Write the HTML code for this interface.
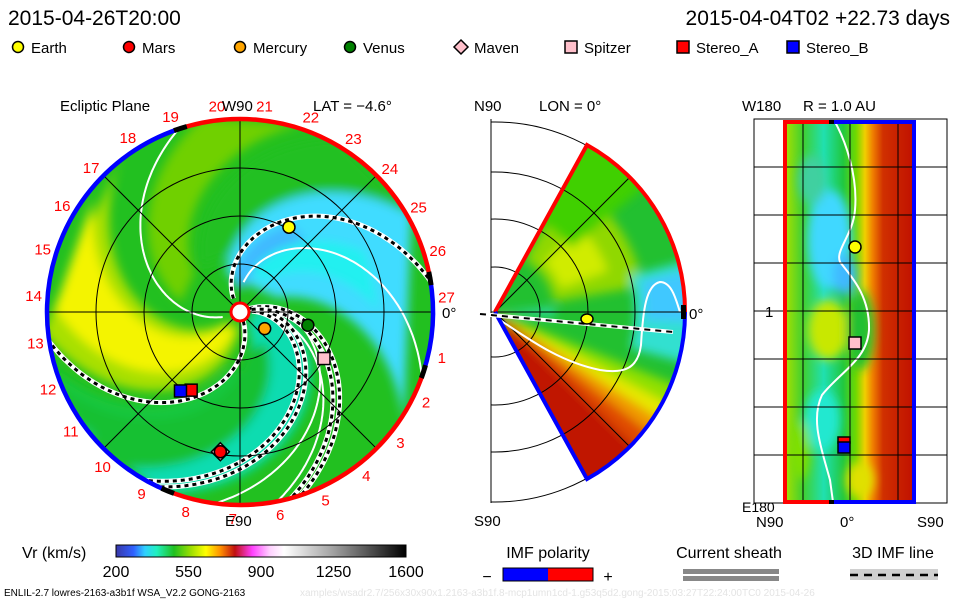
<!DOCTYPE html>
<html><head><meta charset="utf-8">
<style>
body{margin:0;background:#fff;}
#root{position:relative;width:960px;height:600px;overflow:hidden;background:#fff;font-family:"Liberation Sans",sans-serif;}
svg text{font-family:"Liberation Sans",sans-serif;}
</style></head><body>
<div id="root">
<svg id="svg" width="960" height="600" viewBox="0 0 960 600" xmlns="http://www.w3.org/2000/svg">
<defs>
<filter id="blur" x="-20%" y="-20%" width="140%" height="140%"><feGaussianBlur stdDeviation="5"/></filter>
<filter id="blur2" x="-20%" y="-20%" width="140%" height="140%"><feGaussianBlur stdDeviation="5"/></filter>
<clipPath id="cpL"><circle cx="240" cy="312" r="193"/></clipPath>
<clipPath id="cpM"><path d="M495,312 L587,145 A190,190 0 0 1 587,479 Z"/></clipPath>
<clipPath id="cpMF"><rect x="491" y="119" width="194" height="384"/></clipPath>
<clipPath id="cpR"><rect x="785" y="122" width="129" height="380"/></clipPath>
<linearGradient id="cbar" x1="0" x2="1" y1="0" y2="0">
<stop offset="0" stop-color="#3838a8"/><stop offset="0.06" stop-color="#3060ff"/><stop offset="0.1" stop-color="#30d0ff"/><stop offset="0.14" stop-color="#20f0c0"/><stop offset="0.2" stop-color="#20c020"/><stop offset="0.26" stop-color="#a0e000"/><stop offset="0.31" stop-color="#ffff00"/><stop offset="0.36" stop-color="#ff9000"/><stop offset="0.41" stop-color="#c01010"/><stop offset="0.47" stop-color="#ff40ff"/><stop offset="0.53" stop-color="#ffd0ff"/><stop offset="0.58" stop-color="#ffffff"/><stop offset="0.75" stop-color="#a0a0a0"/><stop offset="1" stop-color="#000000"/>
</linearGradient>
<linearGradient id="rgrad" x1="785" x2="914" y1="0" y2="0" gradientUnits="userSpaceOnUse">
<stop offset="0" stop-color="#a8e000"/><stop offset="0.14" stop-color="#40d030"/><stop offset="0.3" stop-color="#20e0b0"/><stop offset="0.45" stop-color="#20c840"/><stop offset="0.55" stop-color="#70d800"/><stop offset="0.62" stop-color="#f0d000"/><stop offset="0.68" stop-color="#f08000"/><stop offset="0.76" stop-color="#d03000"/><stop offset="1" stop-color="#c01000"/>
</linearGradient>
</defs>

<text x="8" y="25" font-size="21" fill="#000">2015-04-26T20:00</text>
<text x="950" y="25" font-size="21" fill="#000" text-anchor="end">2015-04-04T02 +22.73 days</text>

<g id="legend" font-size="15"></g>

<g>
<g clip-path="url(#cpL)">
<circle cx="240" cy="312" r="193" fill="#22c020"/>
<g id="leftField" filter="url(#blur)"></g>
<g id="leftLines"></g>
</g>
<g id="leftGrid" fill="none" stroke="#000" stroke-width="1"></g>
<g id="leftRing"></g>
<g id="leftLabels" font-size="15" fill="#ff0000"></g>
<g id="leftMarkers"></g>
<text x="60" y="111" font-size="15">Ecliptic Plane</text>
<text x="222" y="111" font-size="15">W90</text>
<text x="313" y="111" font-size="15">LAT = −4.6°</text>
<text x="225" y="526" font-size="15">E90</text>
<text x="442" y="318" font-size="15">0°</text>
</g>

<g>
<g clip-path="url(#cpMF)" fill="none" stroke="#000" stroke-width="1" id="midArcs"></g>
<line x1="491" y1="119" x2="491" y2="503" stroke="#000"/>
<g clip-path="url(#cpM)">
<path d="M495,312 L587,145 A190,190 0 0 1 587,479 Z" fill="#22c030"/>
<g id="midField" filter="url(#blur2)"></g>
<g id="midGrid" fill="none" stroke="#000" stroke-width="1"></g>
<path d="M497,318 C530,340 560,362 600,370 C625,374 638,368 641,345 C643,310 646,285 660,282 C672,282 676,300 680,312" fill="none" stroke="#fff" stroke-width="2"/>
</g>
<line x1="491" y1="312" x2="685" y2="312" stroke="#000"/>
<path d="M495,312 L587,145 A190,190 0 0 1 685,312" fill="none" stroke="#f00" stroke-width="4"/>
<path d="M685,312 A190,190 0 0 1 587,479 L495,312" fill="none" stroke="#00f" stroke-width="4"/>
<rect x="681" y="305" width="5" height="14" fill="#000"/>
<line x1="480" y1="314" x2="673" y2="332" stroke="#fff" stroke-width="4"/>
<line x1="480" y1="314" x2="673" y2="332" stroke="#000" stroke-width="2" stroke-dasharray="6,5"/>
<ellipse cx="587" cy="319" rx="6" ry="5" fill="#ff0" stroke="#000" stroke-width="1.5"/>
<text x="474" y="111" font-size="15">N90</text>
<text x="539" y="111" font-size="15">LON = 0°</text>
<text x="689" y="319" font-size="15">0°</text>
<text x="474" y="526" font-size="15">S90</text>
</g>

<g>
<rect x="754" y="119" width="193" height="384" fill="none" stroke="#000"/>
<g clip-path="url(#cpR)">
<rect x="785" y="122" width="129" height="380" fill="url(#rgrad)"/>
<g filter="url(#blur2)">
<ellipse cx="830" cy="240" rx="22" ry="50" fill="#40d8ff"/>
<ellipse cx="845" cy="275" rx="12" ry="20" fill="#40b8ff"/>
<ellipse cx="828" cy="330" rx="20" ry="30" fill="#c8e800"/>
<ellipse cx="812" cy="180" rx="14" ry="25" fill="#40d0a0"/>
<ellipse cx="822" cy="420" rx="18" ry="30" fill="#20e8d0"/>
<ellipse cx="860" cy="480" rx="14" ry="18" fill="#e0e000"/>
<ellipse cx="860" cy="330" rx="14" ry="40" fill="#20c030"/>
<ellipse cx="800" cy="450" rx="10" ry="30" fill="#80e000"/>
</g>
<path d="M835,122 C845,140 858,175 855,210 C853,235 835,250 840,262 C850,275 870,295 869,330 C867,360 840,372 822,395 C810,420 822,450 830,480 L833,502" fill="none" stroke="#fff" stroke-width="2"/>
</g>
<g id="rightGrid" stroke="#000" stroke-width="1"></g>
<path d="M832,122 L785,122 L785,502 L832,502" fill="none" stroke="#f00" stroke-width="4"/>
<path d="M832,122 L914,122 L914,502 L832,502" fill="none" stroke="#00f" stroke-width="4"/>
<rect x="829" y="120" width="5" height="4" fill="#000"/><rect x="829" y="500" width="5" height="4" fill="#000"/>
<g id="rightMarkers"></g>
<text x="742" y="111" font-size="15">W180</text>
<text x="803" y="111" font-size="15">R = 1.0 AU</text>
<text x="765" y="317" font-size="15">1</text>
<text x="742" y="512" font-size="14">E180</text>
<text x="756" y="527" font-size="15">N90</text>
<text x="840" y="527" font-size="15">0°</text>
<text x="917" y="527" font-size="15">S90</text>
</g>

<g>
<text x="22" y="558" font-size="16">Vr (km/s)</text>
<rect x="116" y="545" width="290" height="12" fill="url(#cbar)" stroke="#000" stroke-width="1"/>
<g id="cbTicks" font-size="16" text-anchor="middle"></g>
</g>
<g>
<text x="548" y="558" font-size="16" text-anchor="middle">IMF polarity</text>
<rect x="503" y="568" width="45" height="13" fill="#00f"/><rect x="548" y="568" width="45" height="13" fill="#f00"/>
<rect x="503" y="568" width="90" height="13" fill="none" stroke="#000"/>
<text x="487" y="582" font-size="16" text-anchor="middle">−</text>
<text x="608" y="582" font-size="16" text-anchor="middle">+</text>
</g>
<g>
<text x="729" y="558" font-size="16" text-anchor="middle">Current sheath</text>
<rect x="683" y="569" width="96" height="5" fill="#888"/><rect x="683" y="576" width="96" height="5" fill="#888"/>
</g>
<g>
<text x="893" y="558" font-size="16" text-anchor="middle">3D IMF line</text>
<rect x="850" y="569" width="88" height="11" fill="#d0d0d0"/>
<line x1="850" y1="575" x2="938" y2="575" stroke="#000" stroke-width="2.5" stroke-dasharray="8,6"/>
</g>
<text x="4" y="596" font-size="10">ENLIL-2.7 lowres-2163-a3b1f WSA_V2.2 GONG-2163</text>
<text x="300" y="596" font-size="10" fill="#e4e4e4">xamples/wsadr2.7/256x30x90x1.2163-a3b1f.8-mcp1umn1cd-1.g53q5d2.gong-2015:03:27T22:24:00TC0   2015-04-26</text>
</svg>
</div>
<script>
// ---- data ----
const legendNames = ["Earth","Mars","Mercury","Venus","Maven","Spitzer","Stereo_A","Stereo_B"];
const legendColors = ["#ffff00","#ff0000","#ffa500","#008000","#ffc0cb","#ffc0cb","#ff0000","#0000ff"];
const legendShapes = ["circle","circle","circle","circle","diamond","square","square","square"];
const planetNames = ["Earth","Mars","Mercury","Venus","Spitzer","Stereo_A","Stereo_B","Maven"];
const planetRadiusAU = [1.02,1.47,0.31,0.72,1.0,0.96,1.03,1.47];
const planetAngleDeg = [60,262,-34,-11,-29,238,233,262];
const colorbarTicks = [200,550,900,1250,1600];
const sectorNumbers = [1,2,3,4,5,6,7,8,9,10,11,12,13,14,15,16,17,18,19,20,21,22,23,24,25,26,27];
const rightLatTicks = [1,2,3,4,5,6,7];

const NS="http://www.w3.org/2000/svg";
function mk(tag,attrs,parent){const e=document.createElementNS(NS,tag);for(const k in attrs)e.setAttribute(k,attrs[k]);if(parent)parent.appendChild(e);return e;}
const CX=240,CY=312,R=193,AU=96;
function pt(r,deg){const a=deg*Math.PI/180;return [CX+r*Math.cos(a),CY-r*Math.sin(a)];}
function spiral(phi0,rate,r0,r1){let d="";for(let r=r0;r<=r1;r+=2){const p=pt(r,phi0-rate*r);d+=(d?"L":"M")+p[0].toFixed(1)+","+p[1].toFixed(1);}return d;}
function region(pa,ra,pb,rb,r0,r1){const A=[],B=[];for(let r=r0;r<=r1;r+=3){A.push(pt(r,pa-ra*r));B.push(pt(r,pb-rb*r));}return "M"+A.concat(B.reverse()).map(p=>p[0].toFixed(1)+","+p[1].toFixed(1)).join("L")+"Z";}

const lg=document.getElementById("legend");
const legX=[18,129,240,350,461,571,683,793];
legendNames.forEach((n,i)=>{
  const x=legX[i],y=47;let m;
  if(legendShapes[i]==="circle") m=mk("circle",{cx:x,cy:y,r:5.5,fill:legendColors[i],stroke:"#000","stroke-width":1.5},lg);
  else if(legendShapes[i]==="diamond") m=mk("path",{d:`M${x},${y-7}L${x+7},${y}L${x},${y+7}L${x-7},${y}Z`,fill:legendColors[i],stroke:"#000","stroke-width":1.5},lg);
  else m=mk("rect",{x:x-6,y:y-6,width:12,height:12,fill:legendColors[i],stroke:"#000","stroke-width":1.5},lg);
  
  
  const t=mk("text",{x:x+13,y:y+6},lg);t.textContent=n;
  
  
});

// left field regions [phiA,rateA,phiB,rateB,r0,r1,color]
const lf=document.getElementById("leftField");
[[200,0.5,170,0.5,60,200,"#70d000"],
 [225,0.5,275,0.45,15,200,"#a8e000"],
 [235,0.5,262,0.45,20,185,"#f4f400"],
 [130,0.5,35,0.35,40,200,"#40dcff"],
 [120,0.6,95,0.6,25,100,"#40b8ff"],
 [160,0.5,128,0.5,60,200,"#22c020"],
 [95,0.5,70,0.5,40,140,"#20f0f0"],
 [25,0.7,-55,0.45,15,200,"#10dcb0"],
 [-55,0.45,-75,0.45,60,200,"#18c840"],
 [300,0.5,330,0.5,40,200,"#14c030"]].forEach(b=>{
  mk("path",{d:region(b[0],b[1],b[2],b[3],b[4],b[5]),fill:b[6]},lf);
});
const ll=document.getElementById("leftLines");
[[205,0.5,18],[102,0.63,30],[8,0.45,20],[28,0.65,25]].forEach(s=>{
  const p=mk("path",{d:spiral(s[0],s[1],s[2],200),fill:"none",stroke:"#fff","stroke-width":2},ll);
  
  
});
[[125,0.6,15],[295,0.55,10],[20,0.7,10],[12,0.68,12],[25,0.5,10],[18,0.48,12]].forEach(s=>{
  const d=spiral(s[0],s[1],s[2],200);
  mk("path",{d:d,fill:"none",stroke:"#fff","stroke-width":5},ll);
  const p=mk("path",{d:d,fill:"none",stroke:"#000","stroke-width":3,"stroke-dasharray":"4,4"},ll);
  
  
});
const lgd=document.getElementById("leftGrid");
[48,96,144].forEach(r=>mk("circle",{cx:CX,cy:CY,r:r},lgd));
mk("line",{x1:CX-R,y1:CY,x2:CX+R,y2:CY},lgd);mk("line",{x1:CX,y1:CY-R,x2:CX,y2:CY+R},lgd);
[45,135].forEach(a=>{const p1=pt(R,a),p2=pt(R,a+180);mk("line",{x1:p1[0],y1:p1[1],x2:p2[0],y2:p2[1]},lgd);});
const rg=document.getElementById("leftRing");
function arc(a0,a1,col,w){const p0=pt(R,a0),p1=pt(R,a1);const large=Math.abs(a1-a0)>180?1:0;mk("path",{d:`M${p0[0]},${p0[1]}A${R},${R} 0 ${large} 0 ${p1[0]},${p1[1]}`,fill:"none",stroke:col,"stroke-width":w},rg);}
arc(10,108,"#f00",4.5);arc(108,248,"#00f",4.5);arc(248,342,"#f00",4.5);arc(-18,10,"#00f",4.5);
[[106,110],[246,250],[-20,-16],[8,12]].forEach(a=>arc(a[0],a[1],"#000",5));
mk("circle",{cx:CX,cy:CY,r:9,fill:"#fff",stroke:"#f00","stroke-width":3},rg);
const lbl=document.getElementById("leftLabels");
sectorNumbers.forEach(n=>{
  const a=4+(27-n)*13.2;const p=pt(207,a);
  const t=mk("text",{x:p[0],y:p[1]+5,"text-anchor":"middle"},lbl);t.textContent=n;
  
  
});
const lm=document.getElementById("leftMarkers");
planetNames.forEach((n,i)=>{
  if(n==="Maven")return;
  const p=pt(planetRadiusAU[i]*AU,planetAngleDeg[i]);
  const li=legendNames.indexOf(n);let m;
  if(n==="Mars"){
    const d=mk("path",{d:`M${p[0]},${p[1]-9}L${p[0]+9},${p[1]}L${p[0]},${p[1]+9}L${p[0]-9},${p[1]}Z`,fill:"#ffc0cb",stroke:"#000","stroke-width":1.5},lm);
    
    
  }
  if(legendShapes[li]==="circle") m=mk("circle",{cx:p[0],cy:p[1],r:6,fill:legendColors[li],stroke:"#000","stroke-width":1.5},lm);
  else m=mk("rect",{x:p[0]-6,y:p[1]-6,width:12,height:12,fill:legendColors[li],stroke:"#000","stroke-width":1.5},lm);
  
  
});

const MX=495,MY=312;
const ma=document.getElementById("midArcs");
[45,93,140,190].forEach(r=>mk("circle",{cx:MX,cy:MY,r:r},ma));
const mf=document.getElementById("midField");
function wedge(a0,a1,r0,r1,col){const q=(r,a)=>[MX+r*Math.cos(a*Math.PI/180),MY-r*Math.sin(a*Math.PI/180)];const p0=q(r0,a0),p1=q(r1,a0),p2=q(r1,a1),p3=q(r0,a1);mk("path",{d:`M${p0}L${p1}A${r1},${r1} 0 0 0 ${p2}L${p3}A${r0},${r0} 0 0 1 ${p0}Z`,fill:col},mf);}
wedge(-70,-44,0,200,"#c01800");wedge(-44,-38,0,200,"#e04800");wedge(-38,-33,0,200,"#f09800");wedge(-33,-28,0,200,"#e8e800");wedge(-28,-22,0,200,"#90e000");
wedge(10,60,60,150,"#90d800");wedge(20,45,70,120,"#d0ec00");wedge(-15,15,140,200,"#30e0d0");wedge(-3,12,150,200,"#40c8ff");wedge(40,70,100,200,"#40d000");wedge(-3,3,0,60,"#30e8e0");
const mg=document.getElementById("midGrid");
[45,93,140].forEach(r=>mk("circle",{cx:MX,cy:MY,r:r},mg));
[45,-45].forEach(a=>mk("line",{x1:MX,y1:MY,x2:MX+200*Math.cos(a*Math.PI/180),y2:MY-200*Math.sin(a*Math.PI/180)},mg));

const rgd=document.getElementById("rightGrid");
[803,850,898].forEach(x=>mk("line",{x1:x,y1:122,x2:x,y2:502},rgd));
rightLatTicks.forEach(k=>mk("line",{x1:754,y1:119+k*48,x2:947,y2:119+k*48},rgd));
const rm=document.getElementById("rightMarkers");
let e=mk("circle",{cx:855,cy:247,r:6,fill:"#ff0",stroke:"#000","stroke-width":1.5},rm);


e=mk("rect",{x:849,y:337,width:12,height:12,fill:"#ffc0cb",stroke:"#000","stroke-width":1.5},rm);


e=mk("rect",{x:838,y:437,width:12,height:6,fill:"#f00",stroke:"#000","stroke-width":1.5},rm);


e=mk("rect",{x:838,y:442,width:12,height:11,fill:"#00f",stroke:"#000","stroke-width":1.5},rm);



const cb=document.getElementById("cbTicks");
colorbarTicks.forEach(v=>{
  const x=116+(v-200)/(1600-200)*290;
  const t=mk("text",{x:x,y:577},cb);t.textContent=v;
  
  
});
</script>
</body></html>
